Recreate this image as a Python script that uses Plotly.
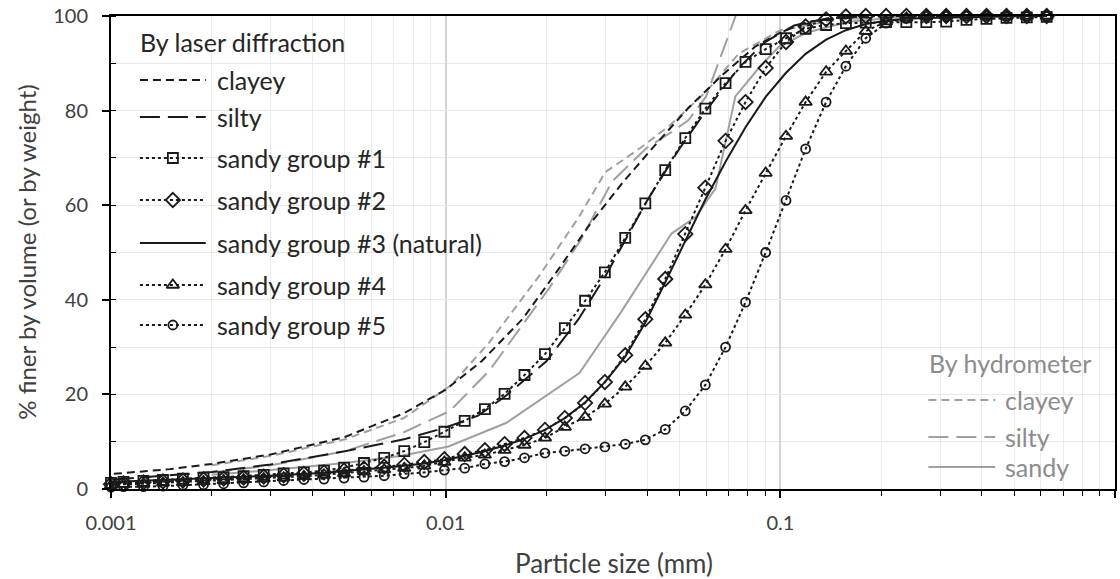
import plotly.graph_objects as go

# ---------------- data ----------------
# laser diffraction size classes (mm)
laser_size_mm = [0.001,
    0.00109, 0.00125, 0.00143, 0.00164, 0.00189, 0.00217, 0.00249, 0.00286, 0.00328, 0.00377,
    0.00433, 0.00497, 0.00570, 0.00655, 0.00752, 0.00863, 0.00991, 0.0114, 0.0131, 0.0150,
    0.0172, 0.0198, 0.0227, 0.0261, 0.0299, 0.0344, 0.0395, 0.0453, 0.0520, 0.0597,
    0.0686, 0.0787, 0.0904, 0.104, 0.119, 0.137, 0.157, 0.180, 0.207, 0.238,
    0.273, 0.313, 0.360, 0.413, 0.474, 0.545, 0.625]

sandy1 = [1.3, 1.5, 1.7, 1.9, 2.2, 2.4, 2.5, 2.7, 3.0, 3.3, 3.5, 3.9, 4.5, 5.5, 6.6, 8.0,
          9.9, 12.1, 14.4, 16.9, 20.1, 24.1, 28.5, 34.0, 39.8, 45.8, 53.1, 60.4, 67.4, 74.2,
          80.4, 85.8, 90.3, 93.0, 95.3, 97.3, 98.1, 98.5, 98.6, 98.7, 98.7, 98.7, 98.8, 99.2,
          99.4, 99.6, 99.7, 99.8]
sandy2 = [1.0, 1.2, 1.4, 1.6, 1.8, 2.0, 2.2, 2.4, 2.6, 2.9, 3.2, 3.5, 3.9, 4.3, 4.7, 5.1,
          5.7, 6.3, 7.4, 8.2, 9.5, 10.8, 12.5, 15.0, 18.2, 22.6, 28.3, 35.9, 44.4, 53.9,
          63.7, 73.6, 81.8, 89.0, 94.5, 97.8, 99.3, 99.9, 100, 100, 100, 100, 100, 100,
          100, 100, 100, 100]
sandy3 = [1.5, 1.6, 1.7, 1.8, 2.0, 2.1, 2.3, 2.5, 2.7, 2.9, 3.2, 3.4, 3.8, 4.1, 4.5, 4.9,
          5.4, 6.1, 7.0, 8.0, 9.2, 10.6, 12.5, 15.0, 18.3, 22.6, 28.0, 35.2, 43.7, 52.5,
          61.2, 69.2, 76.5, 82.9, 88.0, 92.0, 95.0, 97.0, 98.3, 99.0, 99.4, 99.6, 99.7, 99.8,
          99.9, 99.9, 100, 100]
sandy4 = [0.8, 1.0, 1.1, 1.3, 1.4, 1.6, 1.8, 2.0, 2.2, 2.4, 2.7, 3.0, 3.3, 3.7, 4.1, 4.4,
          4.9, 5.7, 6.6, 7.2, 8.2, 9.3, 10.8, 13.1, 15.2, 18.0, 21.6, 26.0, 30.9, 36.8,
          43.2, 50.7, 58.9, 66.8, 74.6, 81.8, 88.2, 92.6, 96.8, 98.8, 99.6, 99.9, 100, 100,
          100, 100, 100, 100]
sandy5 = [0.4, 0.5, 0.5, 0.6, 0.8, 0.9, 1.1, 1.3, 1.5, 1.8, 2.0, 2.1, 2.3, 2.5, 2.8, 3.2,
          3.5, 4.0, 4.4, 5.3, 5.8, 6.6, 7.6, 8.0, 8.5, 8.9, 9.5, 10.4, 12.6, 16.5,
          22.0, 30.0, 39.5, 50.0, 61.0, 71.9, 81.8, 89.4, 95.3, 98.5, 99.5, 99.9, 100, 100,
          100, 100, 100, 100]

clayey_laser_mm = [0.00102, 0.0015, 0.002, 0.003, 0.005, 0.0075, 0.01, 0.0128, 0.017, 0.0215,
                   0.027, 0.034, 0.042, 0.053, 0.067, 0.084, 0.1, 0.12, 0.15, 0.18]
clayey_laser = [3.2, 4.2, 5.3, 7.3, 11.0, 16.0, 21.0, 27.0, 36.0, 46.0,
                56.0, 65.0, 72.5, 80.5, 87.5, 93.5, 96.5, 98.7, 99.7, 100]

silty_laser_mm = [0.00102, 0.002, 0.003, 0.005, 0.0075, 0.01, 0.0125, 0.015, 0.02, 0.025,
                  0.03, 0.04, 0.05, 0.06, 0.075, 0.09, 0.11, 0.14, 0.18]
silty_laser = [2.0, 3.6, 5.2, 8.0, 10.5, 13.0, 15.5, 19.5, 27.0, 36.0,
               45.0, 61.0, 72.0, 80.0, 89.0, 94.5, 98.0, 99.6, 100]

clayey_hydro_mm = [0.002, 0.003, 0.005, 0.0075, 0.0104, 0.0135, 0.019, 0.025, 0.030, 0.038,
                   0.047, 0.06, 0.075, 0.1, 0.15, 0.25]
clayey_hydro = [5.0, 7.0, 10.5, 15.0, 22.0, 31.0, 45.0, 57.5, 67.0, 72.0,
                77.0, 84.0, 92.0, 97.0, 99.3, 100]

silty_hydro_mm = [0.002, 0.003, 0.005, 0.0075, 0.0103, 0.0135, 0.0204, 0.0255, 0.0314, 0.0397,
                  0.0474, 0.0532, 0.06, 0.0686, 0.0735]
silty_hydro = [3.5, 5.0, 8.0, 12.0, 16.5, 25.0, 42.5, 53.0, 65.0, 72.0,
               75.5, 78.0, 83.0, 94.0, 100]

sandy_hydro_mm = [0.002, 0.003, 0.005, 0.0073, 0.0102, 0.0152, 0.0251, 0.0335, 0.0473, 0.0558,
                  0.064, 0.0734, 0.0862, 0.0989, 0.12, 0.16, 0.25]
sandy_hydro = [3.0, 4.0, 5.5, 7.0, 9.0, 14.0, 24.5, 37.5, 54.0, 57.5,
               63.5, 83.0, 89.0, 93.5, 96.5, 98.8, 100]

x_tick_vals = [0.001, 0.01, 0.1, 1]
x_tick_text = ["0.001", "0.01", "0.1", "1"]
y_tick_vals = [0, 20, 40, 60, 80, 100]

laser_labels = ["clayey", "silty", "sandy group #1", "sandy group #2",
                "sandy group #3 (natural)", "sandy group #4", "sandy group #5"]
hydro_labels = ["clayey", "silty", "sandy"]

# ---------------- styles ----------------
BLACK = "#1a1a1a"
GRAY = "#a0a0a0"
FONT = "Lato"
SHORT = "8px,5px"
LONG = "20px,8px"
DOTS = "3px,3px"
TXT = 25
MW = 1.8

fig = go.Figure()

def line_trace(x, y, color, dash, **kw):
    return go.Scatter(x=x, y=y, mode="lines", line=dict(color=color, width=2, dash=dash),
                      showlegend=False, hoverinfo="skip", cliponaxis=False, **kw)

# hydrometer (gray)
fig.add_trace(line_trace(clayey_hydro_mm, clayey_hydro, GRAY, SHORT))
fig.add_trace(line_trace(silty_hydro_mm, silty_hydro, GRAY, LONG))
fig.add_trace(line_trace(sandy_hydro_mm, sandy_hydro, GRAY, "solid"))

# laser (black)
fig.add_trace(line_trace(clayey_laser_mm, clayey_laser, BLACK, SHORT))
fig.add_trace(line_trace(silty_laser_mm, silty_laser, BLACK, LONG))
fig.add_trace(line_trace(laser_size_mm, sandy3, BLACK, "solid"))

marker_series = [
    (sandy1, "square-open", 10),
    (sandy2, "diamond-open", 11),
    (sandy4, "triangle-up-open", 11),
    (sandy5, "circle-open", 9),
]
for vals, sym, size in marker_series:
    fig.add_trace(go.Scatter(
        x=laser_size_mm, y=vals, mode="lines+markers",
        line=dict(color=BLACK, width=2, dash=DOTS),
        marker=dict(symbol=sym, size=size, color=BLACK, line=dict(color=BLACK, width=MW)),
        showlegend=False, hoverinfo="skip", cliponaxis=False))

# ---------------- custom legends (overlay axes in [0,1]) ----------------
lx0, lx1, lxm = 0.0288, 0.0944, 0.0616
laser_rows = [0.8647, 0.7865, 0.6998, 0.6110, 0.5201, 0.4313, 0.3467]
laser_styles = [
    (SHORT, None, None), (LONG, None, None),
    (DOTS, "square-open", 10), (DOTS, "diamond-open", 11), ("solid", None, None),
    (DOTS, "triangle-up-open", 11), (DOTS, "circle-open", 9)]
for yy, (dash, sym, size) in zip(laser_rows, laser_styles):
    fig.add_trace(go.Scatter(x=[lx0, lx1], y=[yy, yy], mode="lines", xaxis="x2", yaxis="y2",
                             line=dict(color=BLACK, width=2, dash=dash),
                             showlegend=False, hoverinfo="skip"))
    if sym:
        fig.add_trace(go.Scatter(x=[lxm], y=[yy], mode="markers", xaxis="x2", yaxis="y2",
                                 marker=dict(symbol=sym, size=size, color=BLACK,
                                             line=dict(color=BLACK, width=MW)),
                                 showlegend=False, hoverinfo="skip"))

hx0, hx1 = 0.8141, 0.8807
hydro_rows = [0.1882, 0.1099, 0.0465]
for yy, dash in zip(hydro_rows, [SHORT, LONG, "solid"]):
    fig.add_trace(go.Scatter(x=[hx0, hx1], y=[yy, yy], mode="lines", xaxis="x2", yaxis="y2",
                             line=dict(color=GRAY, width=2, dash=dash),
                             showlegend=False, hoverinfo="skip"))

annotations = []
annotations.append(dict(x=0.0268, y=0.9450, xref="paper", yref="paper", text="By laser diffraction",
                        showarrow=False, xanchor="left", yanchor="middle",
                        font=dict(family=FONT, size=TXT, color="#262626")))
for yy, t in zip(laser_rows, laser_labels):
    annotations.append(dict(x=0.1034, y=yy, xref="paper", yref="paper", text=t, showarrow=False,
                            xanchor="left", yanchor="middle",
                            font=dict(family=FONT, size=TXT, color="#262626")))
annotations.append(dict(x=0.8131, y=0.2664, xref="paper", yref="paper", text="By hydrometer",
                        showarrow=False, xanchor="left", yanchor="middle",
                        font=dict(family=FONT, size=TXT, color="#8c8c8c")))
for yy, t in zip(hydro_rows, hydro_labels):
    annotations.append(dict(x=0.8887, y=yy, xref="paper", yref="paper", text=t, showarrow=False,
                            xanchor="left", yanchor="middle",
                            font=dict(family=FONT, size=TXT, color="#8c8c8c")))
# axis titles
annotations.append(dict(x=-85 / 1006, y=0.5, xref="paper", yref="paper",
                        text="% finer by volume (or by weight)",
                        showarrow=False, textangle=-90, xanchor="center", yanchor="middle",
                        font=dict(family=FONT, size=24, color="#404040")))
annotations.append(dict(x=0.5006, y=-74 / 473, xref="paper", yref="paper", text="Particle size (mm)",
                        showarrow=False, xanchor="center", yanchor="middle",
                        font=dict(family=FONT, size=26, color="#404040")))

minor_x = [m * 10 ** e for e in (-3, -2, -1) for m in range(2, 10)]

fig.update_layout(
    width=1120, height=579,
    margin=dict(l=111, r=3, t=16, b=90),
    paper_bgcolor="white", plot_bgcolor="white",
    font=dict(family=FONT, color="#404040"),
    annotations=annotations,
    xaxis=dict(type="log", range=[-3, 0], tickvals=x_tick_vals, ticktext=x_tick_text,
               showline=True, linecolor="black", linewidth=2, mirror=True,
               ticks="outside", ticklen=7, tickwidth=1.5, tickcolor="black",
               showgrid=True, gridcolor="#d4d4d4", gridwidth=1.5,
               tickfont=dict(family=FONT, size=20, color="#404040"),
               ticklabelstandoff=8,
               minor=dict(tickvals=minor_x, ticks="outside", ticklen=5, tickwidth=1.2,
                          tickcolor="black", showgrid=True, gridcolor="#ebebeb", gridwidth=1.2),
               zeroline=False),
    yaxis=dict(range=[0, 100], tickvals=y_tick_vals,
               showline=True, linecolor="black", linewidth=2, mirror=True,
               ticks="outside", ticklen=7, tickwidth=1.5, tickcolor="black",
               showgrid=True, gridcolor="#e8e8e8", gridwidth=1.2,
               tickfont=dict(family=FONT, size=20, color="#404040"),
               ticklabelstandoff=10,
               minor=dict(dtick=10, ticks="inside", ticklen=5, tickwidth=1.2, tickcolor="black",
                          showgrid=True, gridcolor="#e8e8e8", gridwidth=1.2),
               zeroline=False),
    xaxis2=dict(overlaying="x", range=[0, 1], visible=False, anchor="y2"),
    yaxis2=dict(overlaying="y", range=[0, 1], visible=False, anchor="x2"),
)

fig.write_html("out.html", config={"displayModeBar": False},
               post_script="document.body.style.margin='0px';")
